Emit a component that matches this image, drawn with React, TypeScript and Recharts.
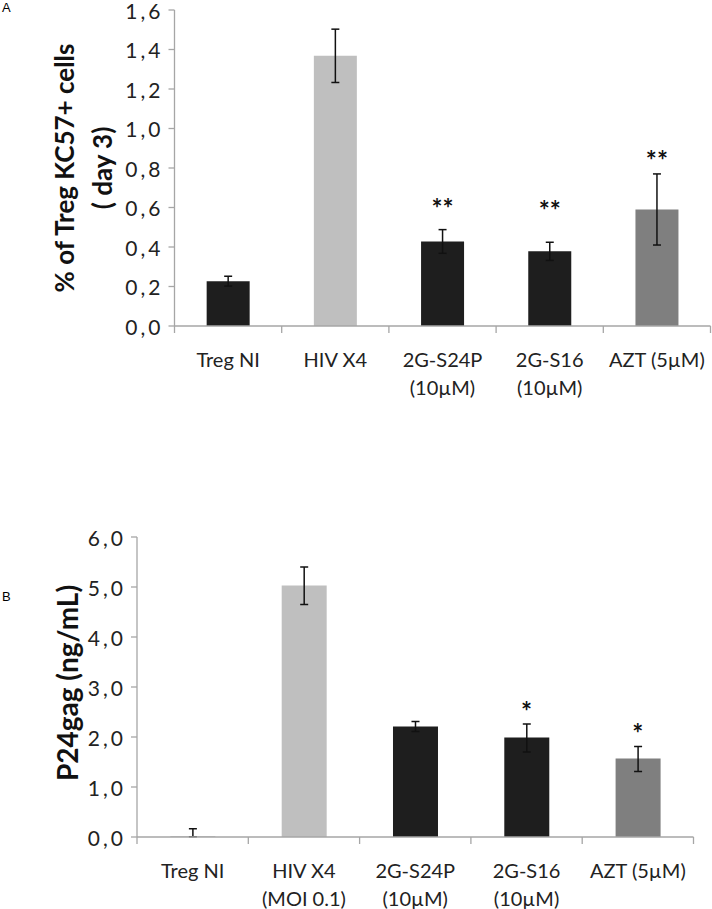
import React from 'react';
import { ComposedChart, Bar, Cell, ErrorBar, Scatter, XAxis, YAxis, Label } from 'recharts';

// panel A
const labelsA = [['Treg NI'], ['HIV X4'], ['2G-S24P', '(10µM)'], ['2G-S16', '(10µM)'], ['AZT (5µM)']];
const valuesA = [0.227, 1.368, 0.428, 0.378, 0.59];
const errA = [0.025, 0.135, 0.06, 0.046, 0.18];
const starsA = ['', '', '**', '**', '**'];
const starPosA = [null, null, 0.62, 0.61, 0.86];
const ticksA = [0, 0.2, 0.4, 0.6, 0.8, 1.0, 1.2, 1.4, 1.6];

// panel B
const labelsB = [['Treg NI'], ['HIV X4', '(MOI 0.1)'], ['2G-S24P', '(10µM)'], ['2G-S16', '(10µM)'], ['AZT (5µM)']];
const valuesB = [0.005, 5.03, 2.21, 1.99, 1.57];
const errB = [[0, 0.16], [0.38, 0.37], [0.1, 0.1], [0.29, 0.27], [0.26, 0.24]];
const starsB = ['', '', '', '*', '*'];
const starPosB = [null, null, null, 2.61, 2.17];
const ticksB = [0, 1, 2, 3, 4, 5, 6];

const barColors = ['#1e1e1e', '#bfbfbf', '#1e1e1e', '#1e1e1e', '#7f7f7f'];

const FONT = 'Lato, "Open Sans", sans-serif';
const AXIS = '#a6a6a6';

const dataA = labelsA.map((l, i) => ({
  name: l.join(' '), value: valuesA[i], err: errA[i], star: starsA[i], starY: starPosA[i],
}));
const dataB = labelsB.map((l, i) => ({
  name: l.join(' '), value: valuesB[i], err: errB[i], star: starsB[i], starY: starPosB[i],
}));

const fmt = (v: number) => v.toFixed(1).replace('.', ',');

function CatTick(props: any) {
  const { x, y, payload, index, lines } = props;
  const half = payload.offset ?? 0;
  const rows = lines[index] || [];
  return (
    <g>
      <line x1={x - half} x2={x - half} y1={y} y2={y + 7} stroke={AXIS} strokeWidth={1.3} />
      {index === lines.length - 1 && (
        <line x1={x + half} x2={x + half} y1={y} y2={y + 7} stroke={AXIS} strokeWidth={1.3} />
      )}
      {rows.map((r: string, k: number) => (
        <text key={k} x={x} y={y + 41 + k * 28} textAnchor="middle" fontSize={20} fontFamily={FONT} fill="#222">
          {r}
        </text>
      ))}
    </g>
  );
}

function YTick(props: any) {
  const { x, y, payload } = props;
  return (
    <text x={x + 3} y={y} textAnchor="end" dominantBaseline="central" fontSize={21} letterSpacing={3}
      fontFamily={FONT} fill="#222">
      {fmt(payload.value)}
    </text>
  );
}

function Star(props: any) {
  const { cx, cy, payload, size } = props;
  if (!payload.star) return <g />;
  return (
    <text x={cx} y={cy + size * 0.55} textAnchor="middle" fontSize={size} fontWeight="bold" fontFamily={FONT} fill="#111">
      {payload.star}
    </text>
  );
}

function TitleA(props: any) {
  const vb = props.viewBox;
  const cy = vb.y + vb.height / 2;
  return (
    <g fontFamily={FONT} fontWeight="bold" fontSize={26} fill="#111">
      <text x={64} y={cy} transform={`rotate(-90 64 ${cy})`} textAnchor="middle" dominantBaseline="central">
        % of Treg KC57+ cells
      </text>
      <text x={102} y={cy} transform={`rotate(-90 102 ${cy})`} textAnchor="middle" dominantBaseline="central">
        ( day 3)
      </text>
    </g>
  );
}

function TitleB(props: any) {
  const vb = props.viewBox;
  const cy = vb.y + vb.height / 2 - 4;
  return (
    <text x={67} y={cy} transform={`rotate(-90 67 ${cy})`} textAnchor="middle" dominantBaseline="central"
      fontFamily={FONT} fontWeight="bold" fontSize={28} fill="#111">
      P24gag (ng/mL)
    </text>
  );
}

export default function App() {
  return (
    <div style={{ position: 'absolute', left: 0, top: 0, width: 712, height: 909, background: '#fff' }}>
      <div style={{ position: 'absolute', left: 2, top: 0, fontSize: 13, fontFamily: 'Liberation Sans, Arial' }}>A</div>
      <div style={{ position: 'absolute', left: 2, top: 589, fontSize: 13, fontFamily: 'Liberation Sans, Arial' }}>B</div>

      <div style={{ position: 'absolute', left: 0, top: 0 }}>
        <ComposedChart width={712} height={420} data={dataA} barCategoryGap="30%"
          margin={{ top: 10, right: 1.5, left: 0, bottom: 14 }}>
          <XAxis dataKey="name" height={80} tickSize={0} tickMargin={0} tickLine={false} interval={0}
            axisLine={{ stroke: AXIS, strokeWidth: 1.3 }}
            tick={(p: any) => <CatTick {...p} lines={labelsA} />} />
          <YAxis width={174.5} domain={[0, 1.6]} ticks={ticksA} interval={0}
            tickSize={6} tickMargin={8} tick={<YTick />}
            axisLine={{ stroke: AXIS, strokeWidth: 1.3 }} tickLine={{ stroke: AXIS, strokeWidth: 1.3 }}>
            <Label content={<TitleA />} />
          </YAxis>
          <Bar dataKey="value" isAnimationActive={false}>
            {dataA.map((d, i) => <Cell key={i} fill={barColors[i]} />)}
            <ErrorBar dataKey="err" width={4} stroke="#111" strokeWidth={1.5} direction="y" />
          </Bar>
          <Scatter dataKey="starY" isAnimationActive={false} shape={(p: any) => <Star {...p} size={26} />} />
        </ComposedChart>
      </div>

      <div style={{ position: 'absolute', left: 0, top: 520 }}>
        <ComposedChart width={712} height={389} data={dataB} barCategoryGap="30%"
          margin={{ top: 17, right: 18.5, left: 0, bottom: 2 }}>
          <XAxis dataKey="name" height={70} tickSize={0} tickMargin={0} tickLine={false} interval={0}
            axisLine={{ stroke: AXIS, strokeWidth: 1.3 }}
            tick={(p: any) => <CatTick {...p} lines={labelsB} />} />
          <YAxis width={137} domain={[0, 6]} ticks={ticksB} interval={0}
            tickSize={6} tickMargin={8} tick={<YTick />}
            axisLine={{ stroke: AXIS, strokeWidth: 1.3 }} tickLine={{ stroke: AXIS, strokeWidth: 1.3 }}>
            <Label content={<TitleB />} />
          </YAxis>
          <Bar dataKey="value" isAnimationActive={false}>
            {dataB.map((d, i) => <Cell key={i} fill={barColors[i]} />)}
            <ErrorBar dataKey="err" width={4} stroke="#111" strokeWidth={1.5} direction="y" />
          </Bar>
          <Scatter dataKey="starY" isAnimationActive={false} shape={(p: any) => <Star {...p} size={26} />} />
        </ComposedChart>
      </div>
    </div>
  );
}
